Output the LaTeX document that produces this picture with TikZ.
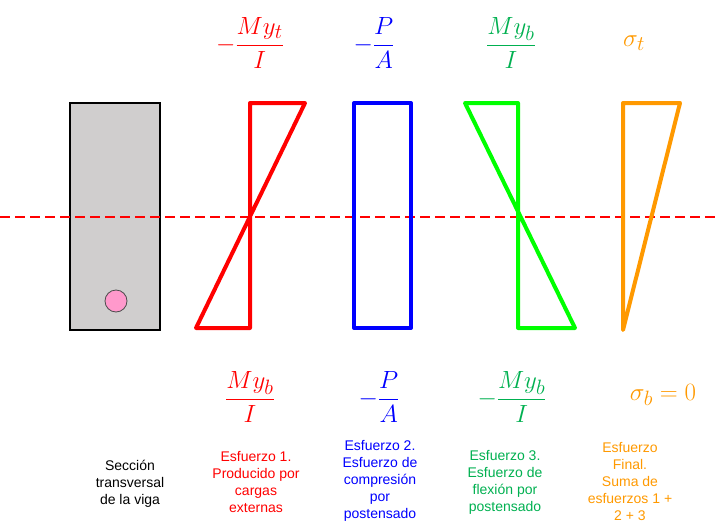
\documentclass[tikz,border=0pt]{standalone}
\usepackage{amsmath}
\usepackage{fontspec}
\setmainfont{Liberation Sans}
\usepackage{tikz}
\usetikzlibrary{positioning,calc}
\definecolor{vigaGray}{HTML}{D0CECE}
\definecolor{vigaPink}{HTML}{FF99CC}
\definecolor{vigaRed}{HTML}{FF0000}
\definecolor{vigaBlue}{HTML}{0000FF}
\definecolor{vigaLime}{HTML}{00FF00}
\definecolor{vigaGreen}{HTML}{00B050}
\definecolor{vigaOrange}{HTML}{FF9900}

\begin{document}
\begin{tikzpicture}[x=1pt,y=-1pt,
   diag/.style={line width=4pt,line join=round,line cap=round},
   eje/.style={color=vigaRed,dash pattern=on 10pt off 5pt,line width=1.1pt},
   eq/.style={inner sep=0pt,font=\Huge},
   lbl/.style={align=center,inner sep=0pt,font=\fontsize{14}{17}\selectfont}]
  \useasboundingbox (0,0) rectangle (716,525);
  % seccion
  \draw[fill=vigaGray,line width=1.3pt] (70,103) rectangle (160,330);
  \draw[fill=vigaPink,line width=0.8pt,draw=black!70] (116,301) circle (11);
  \draw[eje] (0,217) -- (716,217);
  % diagramas
  \draw[diag,vigaRed] (250,103) -- (305,103) -- (196,328) -- (250,328) -- cycle;
  \draw[diag,vigaBlue] (354,103) rectangle (411,328);
  \draw[diag,vigaLime] (518,103) -- (465,103) -- (575,328) -- (518,328) -- cycle;
  \draw[diag,vigaOrange] (623,103) -- (680,103) -- (623,330) -- cycle;
  % esfuerzos arriba
  \node[eq,text=vigaRed] (t1) at (250,43) {$-\dfrac{My_t}{I}$};
  \node[eq,text=vigaBlue] (t2) at (374,43) {$-\dfrac{P}{A}$};
  \node[eq,text=vigaGreen] (t3) at (511,43) {$\dfrac{My_b}{I}$};
  \node[eq,text=vigaOrange] (t4) at (634,43) {$\sigma_t$};
  % esfuerzos abajo
  \node[eq,text=vigaRed] (b1) at (250,397) {$\dfrac{My_b}{I}$};
  \node[eq,text=vigaBlue] (b2) at (379,397) {$-\dfrac{P}{A}$};
  \node[eq,text=vigaGreen] (b3) at (512,397) {$-\dfrac{My_b}{I}$};
  \node[eq,text=vigaOrange] (b4) at (663,395) {$\sigma_b = 0$};
  % textos
  \node[lbl] (l0) at (130,484) {Sección\\transversal\\de la viga};
  \node[lbl,text=vigaRed] (l1) at (256,482) {Esfuerzo 1.\\Producido por\\cargas\\externas};
  \node[lbl,text=vigaBlue] (l2) at (380,481) {Esfuerzo 2.\\Esfuerzo de\\compresión\\por\\postensado};
  \node[lbl,text=vigaGreen] (l3) at (505,482) {Esfuerzo 3.\\Esfuerzo de\\flexión por\\postensado};
  \node[lbl,text=vigaOrange] (l4) at (630,481) {Esfuerzo\\Final.\\Suma de\\esfuerzos 1 +\\2 + 3};
\end{tikzpicture}
\end{document}
